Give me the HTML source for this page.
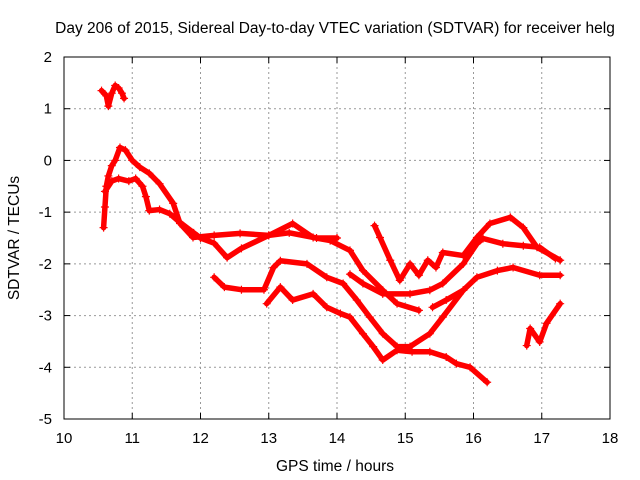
<!DOCTYPE html>
<html><head><meta charset="utf-8"><style>
html,body{margin:0;padding:0;background:#fff;}
svg{display:block;font-family:"Liberation Sans",sans-serif;}
</style></head><body>
<svg id="chart" width="640" height="480" viewBox="0 0 640 480">
<text x="335" y="33" font-size="15.5" text-anchor="middle">Day 206 of 2015, Sidereal Day-to-day VTEC variation (SDTVAR) for receiver helg</text>
<text x="335" y="471" font-size="15.5" text-anchor="middle">GPS time / hours</text>
<text transform="translate(19,238) rotate(-90)" font-size="15.5" text-anchor="middle">SDTVAR / TECUs</text>
<g id="grid"></g>
<g id="series"></g>
<rect x="64" y="57" width="546" height="362" fill="none" stroke="#000" stroke-width="1"/>
</svg>
<script>
const xTicks=[10,11,12,13,14,15,16,17,18];
const yTicks=[2,1,0,-1,-2,-3,-4,-5];
const trackTop=[[10.55,1.35],[10.62,1.25],[10.65,1.05],[10.7,1.3],[10.75,1.45],[10.8,1.4],[10.85,1.3],[10.88,1.2]];
const trackUpper=[[10.58,-1.3],[10.6,-0.9],[10.62,-0.5],[10.65,-0.3],[10.7,-0.1],[10.75,0.0],[10.82,0.25],[10.9,0.2],[11.0,0.0],[11.11,-0.13],[11.25,-0.25],[11.4,-0.45],[11.6,-0.83],[11.7,-1.22],[11.89,-1.49],[12.2,-1.45],[12.58,-1.41],[13.0,-1.45],[13.35,-1.22],[13.65,-1.49],[13.9,-1.55],[14.19,-1.74],[14.38,-2.13],[14.67,-2.51],[14.88,-2.77],[15.2,-2.9]];
const trackLowerEarly=[[10.6,-0.6],[10.7,-0.4],[10.8,-0.35],[10.95,-0.4],[11.05,-0.35],[11.15,-0.5],[11.2,-0.7],[11.25,-0.97],[11.4,-0.95],[11.55,-1.03],[11.7,-1.2],[11.9,-1.4],[12.0,-1.5],[12.2,-1.6],[12.39,-1.88],[12.6,-1.7],[13.0,-1.45],[13.3,-1.4],[13.7,-1.5],[14.0,-1.5]];
const trackMid=[[12.2,-2.26],[12.35,-2.45],[12.6,-2.5],[12.93,-2.5],[13.07,-2.07],[13.17,-1.94],[13.56,-2.0],[13.85,-2.26],[14.09,-2.38],[14.29,-2.7],[14.48,-3.03],[14.67,-3.35],[14.88,-3.6],[15.07,-3.6],[15.36,-3.35],[15.55,-3.03],[15.85,-2.51],[16.05,-2.26],[16.35,-2.13],[16.58,-2.07],[16.97,-2.22],[17.27,-2.22]];
const trackLow=[[12.97,-2.77],[13.17,-2.45],[13.35,-2.7],[13.65,-2.58],[13.85,-2.84],[14.05,-2.96],[14.19,-3.03],[14.38,-3.35],[14.53,-3.6],[14.67,-3.86],[14.88,-3.67],[15.1,-3.7],[15.36,-3.7],[15.6,-3.8],[15.75,-3.93],[15.95,-4.0],[16.2,-4.29]];
const trackRise=[[14.55,-1.26],[14.63,-1.49],[14.78,-1.93],[14.92,-2.32],[15.07,-2.0],[15.2,-2.22],[15.33,-1.93],[15.45,-2.07],[15.55,-1.78],[15.85,-1.84],[16.05,-1.49],[16.24,-1.22],[16.54,-1.1],[16.73,-1.3],[16.93,-1.68],[17.27,-1.93]];
const trackSecond=[[14.19,-2.2],[14.38,-2.38],[14.67,-2.58],[15.07,-2.58],[15.36,-2.51],[15.55,-2.38],[15.85,-2.0],[16.05,-1.61],[16.14,-1.51],[16.43,-1.61],[16.73,-1.65],[16.97,-1.68],[17.2,-1.9]];
const trackBranch=[[15.4,-2.84],[15.6,-2.7],[15.85,-2.51]];
const trackN=[[16.78,-3.58],[16.83,-3.25],[16.97,-3.51],[17.07,-3.15],[17.27,-2.77]];
const tracks=[trackTop,trackUpper,trackLowerEarly,trackMid,trackLow,trackRise,trackSecond,trackBranch,trackN];

const X0=64,X1=610,Y0=419,Y1=57;
const xs=h=>X0+(h-10)/8*(X1-X0);
const ys=v=>Y0-(v+5)/7*(Y0-Y1);
const NS="http://www.w3.org/2000/svg";
const grid=document.getElementById('grid');
function mk(tag,attrs,parent){const e=document.createElementNS(NS,tag);for(const k in attrs)e.setAttribute(k,attrs[k]);parent.appendChild(e);return e;}
xTicks.forEach(t=>{
  const x=xs(t);
  if(t>10&&t<18){const l=mk('line',{x1:x,x2:x,y1:Y1,y2:Y0,stroke:'#999','stroke-dasharray':'2,3'},grid);
  
  }
  mk('line',{x1:x,x2:x,y1:Y0,y2:Y0-6,stroke:'#000'},grid);
  mk('line',{x1:x,x2:x,y1:Y1,y2:Y1+6,stroke:'#000'},grid);
  const tx=mk('text',{x:x,y:Y0+24,'font-size':15,'text-anchor':'middle'},grid);tx.textContent=t;
  
  
});
yTicks.forEach(t=>{
  const y=ys(t);
  if(t>-5&&t<2){const l=mk('line',{x1:X0,x2:X1,y1:y,y2:y,stroke:'#999','stroke-dasharray':'2,3'},grid);
  
  }
  mk('line',{x1:X0,x2:X0+6,y1:y,y2:y,stroke:'#000'},grid);
  mk('line',{x1:X1,x2:X1-6,y1:y,y2:y,stroke:'#000'},grid);
  const tx=mk('text',{x:X0-12,y:y+5,'font-size':15,'text-anchor':'end'},grid);tx.textContent=t;
  
  
});
const ser=document.getElementById('series');
tracks.forEach(tr=>{
  const pl=mk('polyline',{points:tr.map(p=>xs(p[0])+','+ys(p[1])).join(' '),fill:'none',stroke:'#f00','stroke-width':5.5,'stroke-linejoin':'round','stroke-linecap':'round'},ser);
  
  
  tr.forEach(p=>{
    const x=xs(p[0]),y=ys(p[1]);
    const c=mk('path',{d:`M${x-4},${y}H${x+4}M${x},${y-4}V${y+4}`,stroke:'#f00','stroke-width':1.2},ser);
    
    
  });
});
</script>
</body></html>
